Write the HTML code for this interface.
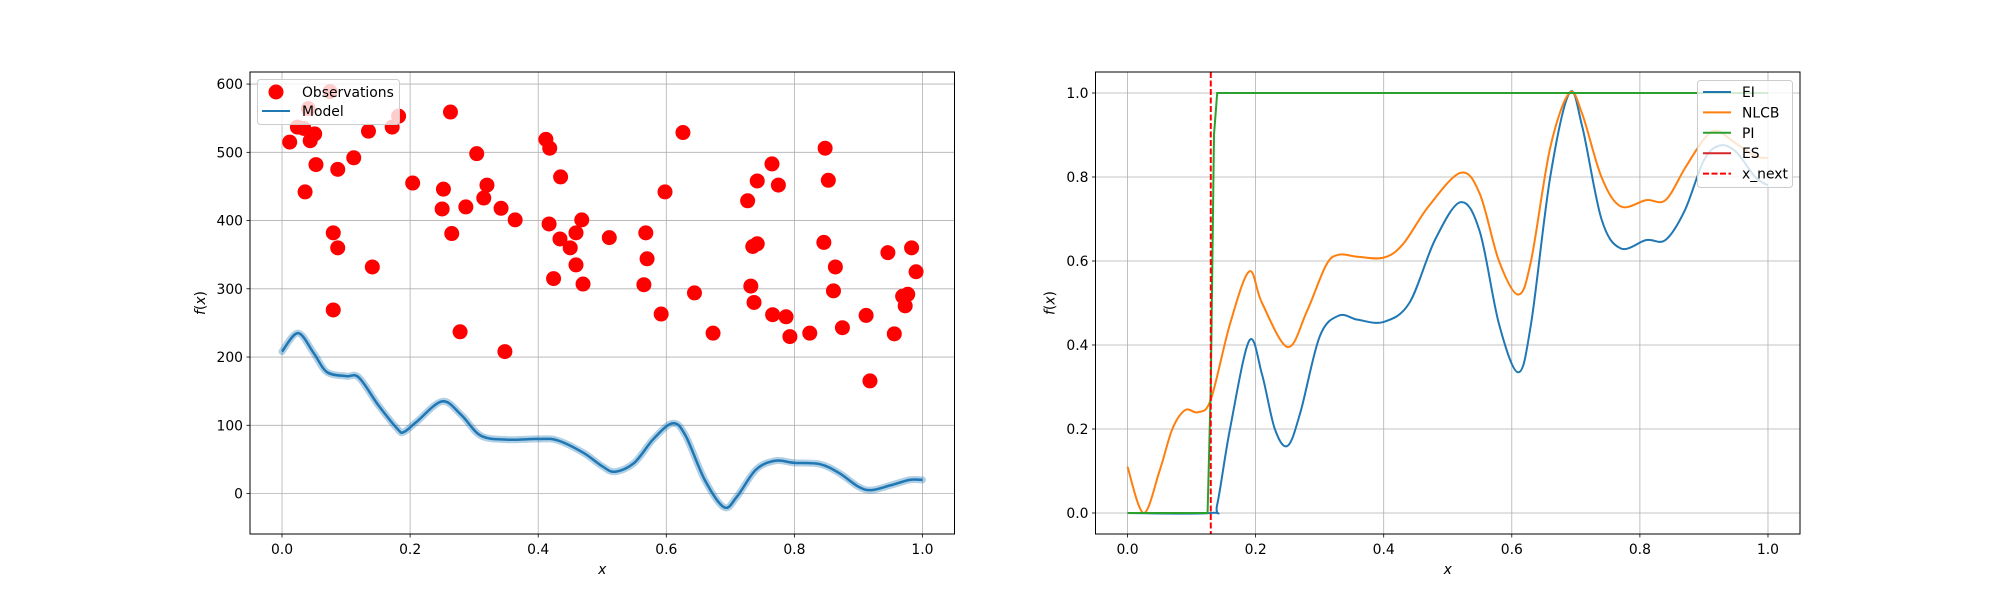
<!DOCTYPE html>
<html><head><meta charset="utf-8"><style>
body{margin:0;background:#fff}
svg{display:block;font-family:"DejaVu Sans","Liberation Sans",sans-serif}
</style></head><body>
<svg id="fig" width="2000" height="600" viewBox="0 0 2000 600" xmlns="http://www.w3.org/2000/svg">
<rect width="2000" height="600" fill="#fff"/>
<g id="left"></g>
<g id="right"></g>
</svg>
<script>
// ---- left chart data ----
const obsX = [0.012,0.024,0.034,0.044,0.051,0.041,0.075,0.036,0.053,0.087,0.080,0.087,0.080,0.112,0.135,0.141,0.172,0.182,0.204,0.263,0.252,0.250,0.265,0.278,0.287,0.304,0.315,0.320,0.342,0.348,0.364,0.412,0.418,0.417,0.424,0.435,0.434,0.450,0.459,0.468,0.459,0.470,0.511,0.565,0.568,0.570,0.592,0.598,0.626,0.644,0.673,0.727,0.732,0.735,0.742,0.737,0.742,0.765,0.775,0.766,0.787,0.793,0.824,0.848,0.853,0.846,0.864,0.861,0.875,0.912,0.918,0.946,0.956,0.969,0.977,0.973,0.983,0.990];
const obsY = [515,537,535,517,527,564,589,442,482,475,382,360,269,492,531,332,537,553,455,559,446,417,381,237,420,498,433,452,418,208,401,519,506,395,315,464,373,360,382,401,335,307,375,306,382,344,263,442,529,294,235,429,304,362,366,280,458,483,452,262,259,230,235,506,459,368,332,297,243,261,165,353,234,289,292,275,360,325];
const modelX = [0,0.025,0.05,0.07,0.1,0.12,0.15,0.18,0.19,0.21,0.25,0.28,0.31,0.35,0.4,0.43,0.47,0.5,0.52,0.55,0.58,0.61,0.63,0.66,0.69,0.71,0.74,0.77,0.8,0.84,0.87,0.9,0.92,0.95,0.98,1.0];
const modelY = [208,235,205,178,172,170,130,95,90,105,135,115,85,79,80,78,60,40,32,45,80,103,85,20,-20,-5,35,48,45,43,30,10,5,12,20,20];
const leftYTicks = [0,100,200,300,400,500,600];
const xTicks = [0,0.2,0.4,0.6,0.8,1.0];
// ---- right chart data ----
const eiX = [0,0.13,0.14,0.16,0.19,0.21,0.23,0.25,0.27,0.3,0.33,0.36,0.4,0.44,0.48,0.52,0.55,0.58,0.61,0.63,0.66,0.69,0.71,0.74,0.77,0.81,0.84,0.87,0.9,0.925,0.95,0.98,1.0];
const eiY = [0,0,0.02,0.2,0.41,0.33,0.2,0.16,0.24,0.42,0.47,0.46,0.455,0.5,0.65,0.74,0.67,0.45,0.335,0.45,0.8,1.0,0.92,0.7,0.63,0.65,0.65,0.72,0.84,0.875,0.86,0.8,0.78];
const nlcbX = [0,0.025,0.05,0.07,0.09,0.11,0.13,0.16,0.19,0.21,0.25,0.28,0.31,0.33,0.36,0.4,0.43,0.47,0.52,0.55,0.58,0.61,0.63,0.66,0.69,0.71,0.74,0.77,0.81,0.84,0.87,0.9,0.92,0.95,0.98,1.0];
const nlcbY = [0.11,0.0,0.1,0.2,0.245,0.24,0.27,0.45,0.575,0.5,0.395,0.48,0.59,0.615,0.61,0.608,0.64,0.73,0.81,0.76,0.6,0.52,0.6,0.87,1.0,0.95,0.8,0.73,0.745,0.745,0.82,0.89,0.91,0.88,0.85,0.845];
const piX = [0,0.125,0.13,0.135,0.14,1.0];
const piY = [0,0,0.3,0.9,1.0,1.0];
const xNext = 0.13;
const rightYTicks = [0,0.2,0.4,0.6,0.8,1.0];

const NS = "http://www.w3.org/2000/svg";
function mk(parent, tag, attrs){const e=document.createElementNS(NS,tag);for(const k in attrs)e.setAttribute(k,attrs[k]);parent.appendChild(e);return e;}
function smooth(pts){
  let d=`M${pts[0][0]},${pts[0][1]}`;
  for(let i=0;i<pts.length-1;i++){
    const p0=pts[Math.max(0,i-1)],p1=pts[i],p2=pts[i+1],p3=pts[Math.min(pts.length-1,i+2)];
    const c1=[p1[0]+(p2[0]-p0[0])/6,p1[1]+(p2[1]-p0[1])/6];
    const c2=[p2[0]-(p3[0]-p1[0])/6,p2[1]-(p3[1]-p1[1])/6];
    d+=` C${c1[0]},${c1[1]} ${c2[0]},${c2[1]} ${p2[0]},${p2[1]}`;
  }
  return d;
}
function axesFrame(g,x0,x1,y0,y1,sx,sy,yt,fmt,off){
  xTicks.forEach(v=>{
    const gl=mk(g,'line',{x1:sx(v),x2:sx(v),y1:y0,y2:y1,stroke:'#b0b0b0','stroke-width':0.8});
    
    mk(g,'line',{x1:sx(v),x2:sx(v),y1:y1,y2:y1+3.5,stroke:'#000','stroke-width':0.8});
    const t=mk(g,'text',{x:sx(v),y:y1+20,'font-size':13.9,'text-anchor':'middle'});
    t.textContent=v.toFixed(1);
    
  });
  yt.forEach(v=>{
    const gl=mk(g,'line',{x1:x0,x2:x1,y1:sy(v),y2:sy(v),stroke:'#b0b0b0','stroke-width':0.8});
    
    mk(g,'line',{x1:x0-3.5,x2:x0,y1:sy(v),y2:sy(v),stroke:'#000','stroke-width':0.8});
    const t=mk(g,'text',{x:x0-7,y:sy(v)+5,'font-size':13.9,'text-anchor':'end'});
    t.textContent=fmt(v);
    
  });
  const xl=mk(g,'text',{x:(x0+x1)/2,y:y1+40,'font-size':13.9,'text-anchor':'middle','font-style':'italic'});
  xl.textContent='x';
  
  const yl=mk(g,'text',{x:0,y:0,'font-size':13.9,'text-anchor':'middle',transform:`translate(${x0-off},${(y0+y1)/2}) rotate(-90)`});
  yl.innerHTML='<tspan font-style="italic">f</tspan>(<tspan font-style="italic">x</tspan>)';
  
}
function border(g,x0,x1,y0,y1){
  const r=mk(g,'rect',{x:x0,y:y0,width:x1-x0,height:y1-y0,fill:'none',stroke:'#000','stroke-width':1});
  
}

// LEFT
(function(){
  const g=document.getElementById('left');
  const x0=250,x1=954.5,y0=72,y1=534;
  const sx=v=>x0+(v+0.05)/1.1*(x1-x0);
  const ymin=-59.3,ymax=617.7;
  const sy=v=>y1-(v-ymin)/(ymax-ymin)*(y1-y0);
  axesFrame(g,x0,x1,y0,y1,sx,sy,leftYTicks,v=>String(v),45);
  const pts=modelX.map((v,i)=>[sx(v),sy(modelY[i])]);
  const band=mk(g,'path',{d:smooth(pts),fill:'none',stroke:'#1f77b4','stroke-opacity':0.35,'stroke-width':7,'stroke-linecap':'round'});
  
  const ln=mk(g,'path',{d:smooth(pts),fill:'none',stroke:'#1f77b4','stroke-width':2.5});
  
  obsX.forEach((v,i)=>{
    const c=mk(g,'circle',{cx:sx(v),cy:sy(obsY[i]),r:7.5,fill:'#ff0000'});
    
  });
  border(g,x0,x1,y0,y1);
  const lg=mk(g,'g',{});
  
  mk(lg,'rect',{x:257.5,y:79.5,width:142,height:45,rx:3,fill:'#fff','fill-opacity':0.8,stroke:'#ccc'});
  mk(lg,'circle',{cx:276,cy:92,r:7.5,fill:'#ff0000'});
  const t1=mk(lg,'text',{x:302,y:97,'font-size':13.9});t1.textContent='Observations';
  
  mk(lg,'line',{x1:262,x2:290,y1:111,y2:111,stroke:'#1f77b4','stroke-width':2});
  const t2=mk(lg,'text',{x:302,y:116,'font-size':13.9});t2.textContent='Model';
  
})();

// RIGHT
(function(){
  const g=document.getElementById('right');
  const x0=1095.5,x1=1800,y0=72,y1=534;
  const sx=v=>x0+(v+0.05)/1.1*(x1-x0);
  const sy=v=>y1-(v+0.05)/1.1*(y1-y0);
  axesFrame(g,x0,x1,y0,y1,sx,sy,rightYTicks,v=>v.toFixed(1),41);
  const ei=mk(g,'path',{d:smooth(eiX.map((v,i)=>[sx(v),sy(eiY[i])])),fill:'none',stroke:'#1f77b4','stroke-width':2});
  
  const nl=mk(g,'path',{d:smooth(nlcbX.map((v,i)=>[sx(v),sy(nlcbY[i])])),fill:'none',stroke:'#ff7f0e','stroke-width':2});
  
  const pi=mk(g,'path',{d:'M'+piX.map((v,i)=>sx(v)+','+sy(piY[i])).join(' L'),fill:'none',stroke:'#2ca02c','stroke-width':2});
  
  const xn=mk(g,'line',{x1:sx(xNext),x2:sx(xNext),y1:y0,y2:y1,stroke:'#ff0000','stroke-width':2,'stroke-dasharray':'6,2.5'});
  
  border(g,x0,x1,y0,y1);
  const lg=mk(g,'g',{});
  
  mk(lg,'rect',{x:1697.5,y:80.5,width:95,height:107,rx:3,fill:'#fff','fill-opacity':0.8,stroke:'#ccc'});
  const items=[['EI','#1f77b4',''],['NLCB','#ff7f0e',''],['PI','#2ca02c',''],['ES','#d62728',''],['x_next','#ff0000','6,2.5']];
  items.forEach((it,i)=>{
    const y=92+i*20.4;
    const l=mk(lg,'line',{x1:1703,x2:1731,y1:y,y2:y,stroke:it[1],'stroke-width':2});
    if(it[2])l.setAttribute('stroke-dasharray',it[2]);
    const t=mk(lg,'text',{x:1742,y:y+5,'font-size':13.9});t.textContent=it[0];
    
  });
})();
</script>
</body></html>
